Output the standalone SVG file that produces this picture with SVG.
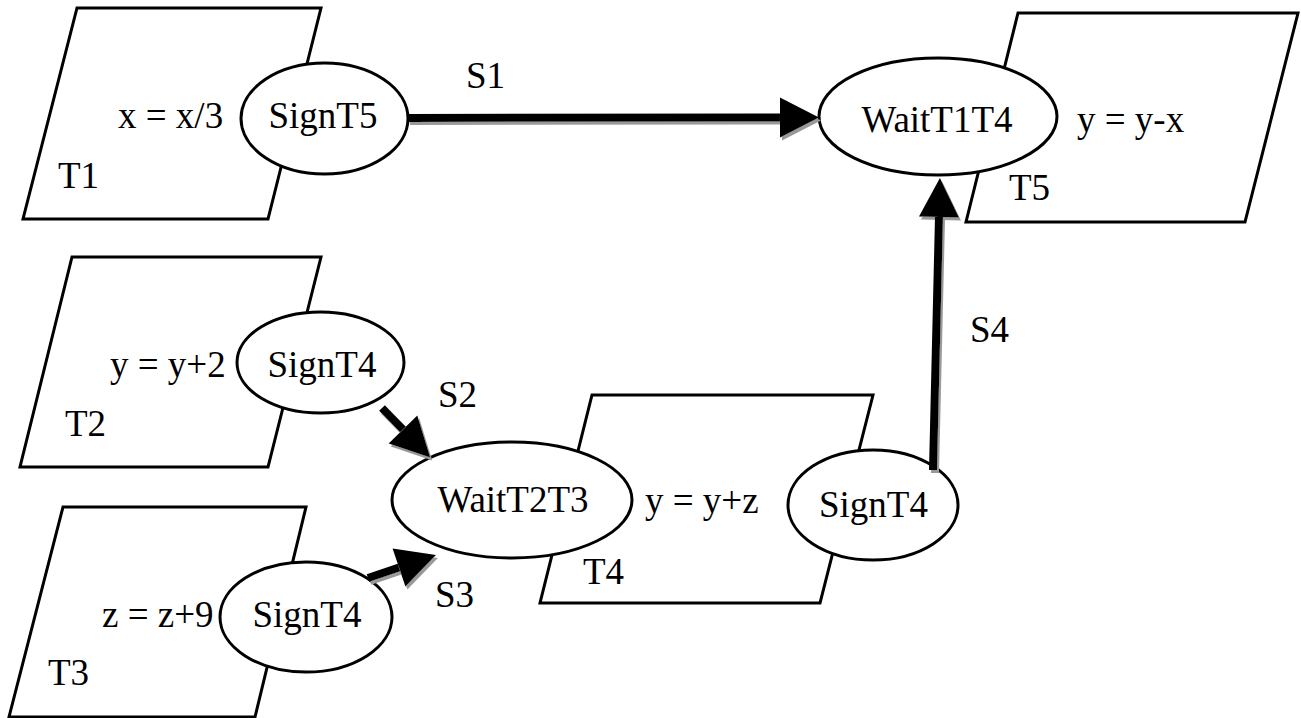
<svg xmlns="http://www.w3.org/2000/svg" width="1301" height="718" viewBox="0 0 1301 718" font-family="'Liberation Serif', 'DejaVu Serif', serif">
  <style>
    .task { fill: #fff; stroke: #000; stroke-width: 3; stroke-linejoin: miter; }
    .sem { fill: #fff; stroke: #000; stroke-width: 3; }
    .lbl { font-family: 'Liberation Serif', 'DejaVu Serif', serif; font-size: 37px; fill: #000; }
    .mid { text-anchor: middle; }
    .edge { fill: none; stroke: #000; stroke-width: 8; marker-end: url(#head); }
  </style>
  <defs>
    <marker id="head" markerUnits="userSpaceOnUse" markerWidth="42" markerHeight="42" refX="0" refY="20" orient="auto" overflow="visible">
      <path d="M0,0 L39,20 L0,40 Z" fill="#000"/>
    </marker>
    <filter id="shade" x="-10%" y="-10%" width="120%" height="120%">
      <feDropShadow dx="2" dy="3" stdDeviation="0.7" flood-color="#999" flood-opacity="1"/>
    </filter>
  </defs>
  <rect width="1301" height="718" fill="#fff"/>

  <!-- task T1 -->
  <g id="t1">
    <polygon class="task" points="77,8 321,8 268,219 23,219"/>
    <text class="lbl" x="118" y="128">x = x/3</text>
    <text class="lbl" x="58" y="188">T1</text>
    <ellipse class="sem" cx="324.5" cy="118.5" rx="83.5" ry="55.5"/>
    <text class="lbl mid" x="323" y="128">SignT5</text>
  </g>

  <!-- task T2 -->
  <g id="t2">
    <polygon class="task" points="72,257 321,257 268,467 20,467"/>
    <text class="lbl" x="110" y="377">y = y+2</text>
    <text class="lbl" x="65" y="436">T2</text>
    <ellipse class="sem" cx="320.5" cy="362.5" rx="83.5" ry="50.5"/>
    <text class="lbl mid" x="322" y="377">SignT4</text>
  </g>

  <!-- task T3 -->
  <g id="t3">
    <polygon class="task" points="63,507 306,507 255,717 9,717"/>
    <text class="lbl" x="102" y="627">z = z+9</text>
    <text class="lbl" x="48" y="685">T3</text>
    <ellipse class="sem" cx="306" cy="617" rx="86" ry="55"/>
    <text class="lbl mid" x="307" y="627">SignT4</text>
  </g>

  <!-- task T4 -->
  <g id="t4">
    <polygon class="task" points="592,395 873,395 820,603 540,603"/>
    <text class="lbl" x="645" y="513">y = y+z</text>
    <text class="lbl" x="583" y="584">T4</text>
    <ellipse class="sem" cx="512" cy="500" rx="120" ry="58"/>
    <text class="lbl mid" x="513" y="512">WaitT2T3</text>
    <ellipse class="sem" cx="873" cy="505" rx="85" ry="55"/>
    <text class="lbl mid" x="873.5" y="517">SignT4</text>
  </g>

  <!-- task T5 -->
  <g id="t5">
    <polygon class="task" points="1018,13 1298,13 1245,222 966,222"/>
    <text class="lbl" x="1077" y="132">y = y-x</text>
    <text class="lbl" x="1009" y="200">T5</text>
    <ellipse class="sem" cx="938" cy="116.5" rx="119" ry="58.5"/>
    <text class="lbl mid" x="937" y="132">WaitT1T4</text>
  </g>

  <!-- signal connectors -->
  <g id="connectors" filter="url(#shade)">
    <path class="edge" d="M408,118 L780,117.5"/>
    <path class="edge" d="M933,470 L939,217"/>
    <path class="edge" d="M382,408 L403,429.5"/>
    <path class="edge" d="M368,578 L399,567.5"/>
  </g>

  <!-- signal labels -->
  <g id="signal-labels">
    <text class="lbl" x="466" y="88">S1</text>
    <text class="lbl" x="438" y="407">S2</text>
    <text class="lbl" x="435" y="607">S3</text>
    <text class="lbl" x="970" y="342">S4</text>
  </g>
</svg>
